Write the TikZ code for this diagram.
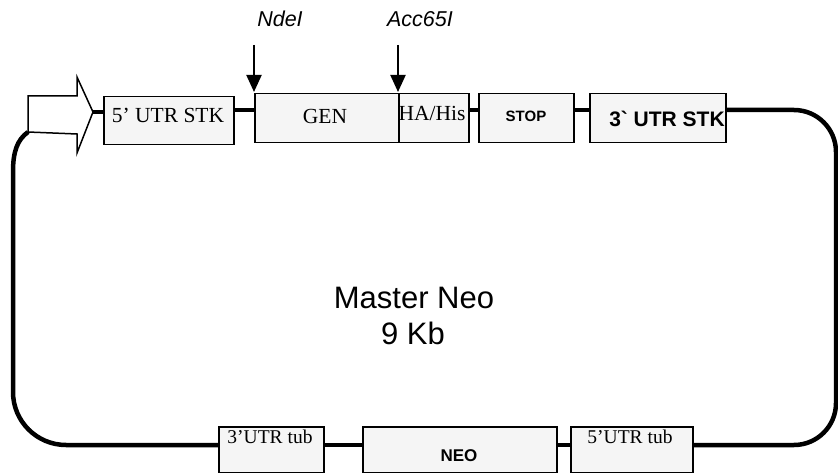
\documentclass[tikz,border=0pt]{standalone}
\usepackage{fontspec}
\setmainfont{Liberation Serif}
\newfontfamily\arialf{Liberation Sans}
\usetikzlibrary{arrows.meta}
\begin{document}
\begin{tikzpicture}[x=1pt,y=-1pt,
  box/.style={draw=black, line width=1.5pt, fill=black!4, inner sep=0pt, anchor=north west},
  conn/.style={line width=4pt},
  loopline/.style={line width=4.5pt},
  site/.style={-{Triangle[length=17pt,width=15pt]}, line width=2pt, shorten >=1pt},
  lbl/.style={anchor=base, inner sep=0pt},
  serifbig/.style={font=\fontsize{21.5pt}{25pt}\selectfont},
  sitefont/.style={font=\arialf\itshape\fontsize{21.5pt}{25pt}\selectfont},
]
\useasboundingbox (0,0) rectangle (838,473);

% boxes, top row
\node[box, minimum width=130pt, minimum height=48pt] (utr5) at (103,96) {};
\node[box, minimum width=144pt, minimum height=49pt] (gen) at (254,93) {};
\node[box, minimum width=70pt, minimum height=49pt] (ha) at (398,93) {};
\node[box, minimum width=95pt, minimum height=49pt] (stop) at (478,93) {};
\node[box, minimum width=136pt, minimum height=49pt] (utr3) at (589,93) {};

% boxes, bottom row
\node[box, minimum width=105pt, minimum height=46pt] (tub3) at (218,426) {};
\node[box, minimum width=194pt, minimum height=46pt] (neo) at (362,426) {};
\node[box, minimum width=122pt, minimum height=46pt] (tub5) at (570,426) {};

\coordinate (ytop) at (0,110);
\coordinate (ybot) at (0,445);
\coordinate (ptip) at (93,112);
\coordinate (pll) at (28,132);

% loop
\draw[loopline] (pll) .. controls (17,140) and (13,152) .. (13,172)
  [rounded corners=53pt] -- (13,445) -- (tub3.west |- ybot);
\draw[loopline, rounded corners=42pt] (utr3.east |- ytop) -- (836,110) -- (836,445) -- (tub5.east |- ybot);

% connectors
\draw[conn] (ptip) -- (utr5.west |- ptip);
\draw[conn] (utr5.east |- ytop) -- (gen.west |- ytop);
\draw[conn] (ha.east |- ytop) -- (stop.west |- ytop);
\draw[conn] (stop.east |- ytop) -- (utr3.west |- ytop);
\draw[conn] (tub3.east |- ybot) -- (neo.west |- ybot);
\draw[conn] (neo.east |- ybot) -- (tub5.west |- ybot);

% promoter arrow
\draw[line width=1.5pt, fill=white, line join=miter] (28,96) -- (77,96) -- (77,77) -- (ptip) -- (77,153) -- (77,134) -- (pll) -- cycle;

% restriction sites
\coordinate (ndtop) at (254,45);
\coordinate (acctop) at (398,45);
\draw[site] (ndtop) -- (gen.north west);
\draw[site] (acctop) -- (ha.north west);
\node[lbl, sitefont] (ndl) at (280,27) {NdeI};
\node[lbl, sitefont] (accl) at (420,27) {Acc65I};

% box labels
\node[lbl, serifbig] (t1) at (168,123) {5’ UTR STK};
\node[lbl, serifbig] (t2) at (325,124) {GEN};
\node[lbl, serifbig] (t3) at (432,121) {HA/His};
\node[lbl, font=\arialf\bfseries\fontsize{15pt}{18pt}\selectfont] (t4) at (526,122) {STOP};
\node[lbl, font=\arialf\bfseries\fontsize{21pt}{25pt}\selectfont] (t5) at (667,127) {3\textasciigrave\ UTR STK};
\node[lbl, font=\fontsize{19.5pt}{23pt}\selectfont] (t6) at (270,443) {3’UTR tub};
\node[lbl, font=\arialf\bfseries\fontsize{17pt}{20pt}\selectfont] (t7) at (459,461) {NEO};
\node[lbl, font=\fontsize{19.5pt}{23pt}\selectfont] (t8) at (630,443) {5’UTR tub};

% centre
\node[lbl, font=\arialf\fontsize{31pt}{36pt}\selectfont] (m1) at (414,308) {Master Neo};
\node[lbl, font=\arialf\fontsize{31pt}{36pt}\selectfont] (m2) at (413,344) {9 Kb};
\end{tikzpicture}
\end{document}
